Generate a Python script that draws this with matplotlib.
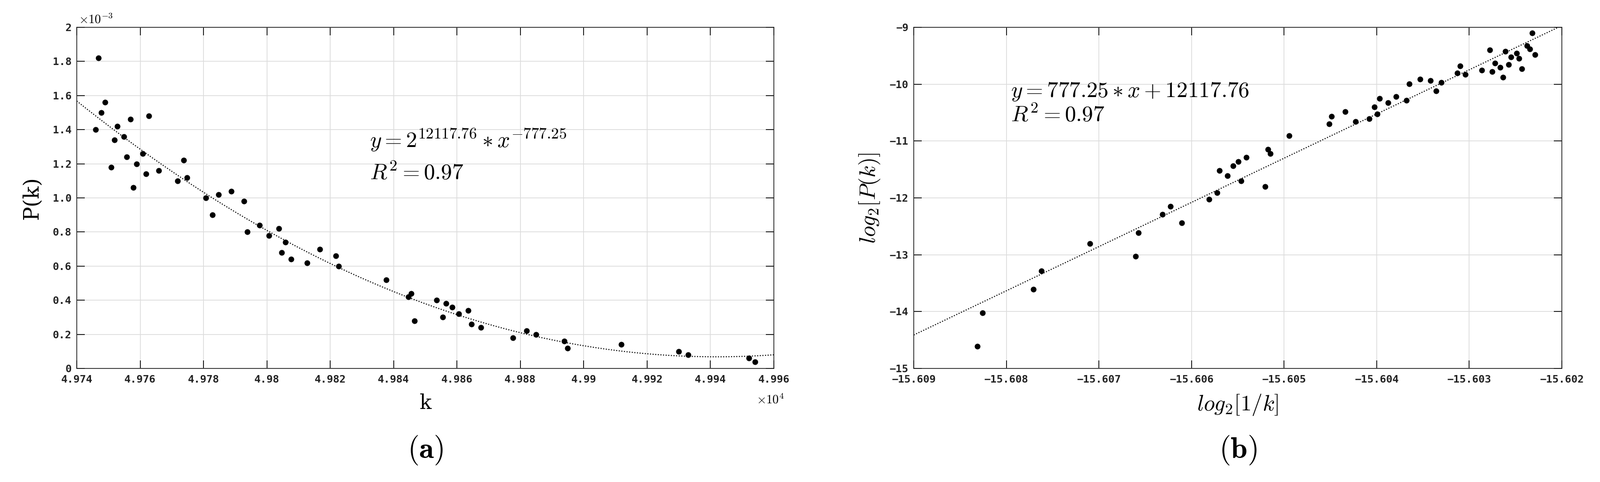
import numpy as np
import matplotlib
matplotlib.use("Agg")
import matplotlib.pyplot as plt

# k in units of 1e4, P in units of 1e-3
k_vals = [4.97459, 4.97469, 4.97478, 4.97489, 4.97508, 4.97519, 4.97528, 4.97548, 4.97558, 4.97569,
          4.97578, 4.97589, 4.97608, 4.97619, 4.97628, 4.97658, 4.97718, 4.97738, 4.97748, 4.97808,
          4.97828, 4.97848, 4.97888, 4.97928, 4.97938, 4.97977, 4.98007, 4.98038, 4.98047, 4.98058,
          4.98077, 4.98127, 4.98167, 4.98217, 4.98226, 4.98376, 4.98446, 4.98455, 4.98466, 4.98535,
          4.98555, 4.98566, 4.98585, 4.98605, 4.98635, 4.98645, 4.98675, 4.98777, 4.98819, 4.98849,
          4.98939, 4.98949, 4.99119, 4.99300, 4.99330, 4.99521, 4.99541]
p_vals = [1.40, 1.82, 1.50, 1.56, 1.18, 1.34, 1.42, 1.36, 1.24, 1.46,
          1.06, 1.20, 1.26, 1.14, 1.48, 1.16, 1.10, 1.22, 1.12, 1.00,
          0.90, 1.02, 1.04, 0.98, 0.80, 0.84, 0.78, 0.82, 0.68, 0.74,
          0.64, 0.62, 0.70, 0.66, 0.60, 0.52, 0.42, 0.44, 0.28, 0.40,
          0.30, 0.38, 0.36, 0.32, 0.34, 0.26, 0.24, 0.18, 0.22, 0.20,
          0.16, 0.12, 0.14, 0.10, 0.08, 0.06, 0.04]

k = np.array(k_vals)
p = np.array(p_vals)
lx = -np.log2(k * 1e4)
ly = np.log2(p * 1e-3)

plt.rcParams['mathtext.fontset'] = 'cm'
tickfont = dict(family='DejaVu Sans Mono', weight='bold', size=16, color='#222222')

fig = plt.figure(figsize=(33.98, 10.23), dpi=100)
ax1 = fig.add_axes([163/3398, 1-782/1023, (1643-163)/3398, (782-58)/1023])
ax2 = fig.add_axes([1940/3398, 1-782/1023, (3316-1940)/3398, (782-58)/1023])

for ax in (ax1, ax2):
    ax.grid(True, color='#dddddd', linewidth=1.2)
    ax.set_axisbelow(True)
    ax.tick_params(direction='in', length=12, top=True, right=True, width=1.2)
    ax.tick_params(axis='x', pad=10)
    ax.tick_params(axis='y', pad=8)
    for s in ax.spines.values():
        s.set_linewidth(1.2)
        s.set_color('#222222')

dot = dict(color='black', linestyle=(0, (1, 1.5)), linewidth=1.6)

# left
ax1.scatter(k, p, s=60, color='black', zorder=3)
c = np.polyfit(k, p, 2)
xx = np.linspace(4.974, 4.996, 300)
ax1.plot(xx, np.polyval(c, xx), **dot)
ax1.set_xlim(4.974, 4.996)
ax1.set_ylim(0, 2)
xt = np.arange(4.974, 4.9961, 0.002)
ax1.set_xticks(xt)
ax1.set_xticklabels([f"{v:.3f}".rstrip('0') for v in xt], **tickfont)
yt = np.arange(0, 2.01, 0.2)
ax1.set_yticks(yt)
ax1.set_yticklabels(['0'] + [f"{v:.1f}" for v in yt[1:-1]] + ['2'], **tickfont)
ax1.text(0.003, 1.004, r'$\times10^{-3}$', transform=ax1.transAxes, fontsize=19, va='bottom')
ax1.text(0.975, -0.075, r'$\times10^{4}$', transform=ax1.transAxes, fontsize=19, va='top')
ax1.set_xlabel('k', family='DejaVu Serif', fontsize=30, labelpad=14)
ax1.set_ylabel('P(k)', family='DejaVu Serif', fontsize=32, labelpad=16)
ax1.text(4.98324, 1.30, r'$y = 2^{12117.76} * x^{-777.25}$', fontsize=34)
ax1.text(4.98324, 1.11, r'$R^2 = 0.97$', fontsize=34)

# right
ax2.scatter(lx, ly, s=60, color='black', zorder=3)
c2 = np.polyfit(lx, ly, 1)
xx2 = np.linspace(-15.609, -15.602, 50)
ax2.plot(xx2, np.polyval(c2, xx2), **dot)
ax2.set_xlim(-15.609, -15.602)
ax2.set_ylim(-15, -9)
xt2 = np.arange(-15.609, -15.6019, 0.001)
ax2.set_xticks(xt2)
ax2.set_xticklabels([f"{v:.3f}".replace('-', '\u2212') for v in xt2], **tickfont)
ax2.set_yticks(range(-15, -8))
ax2.set_yticklabels([f"\u2212{abs(v)}" for v in range(-15, -8)], **tickfont)
ax2.set_xlabel(r'$log_2[1/k]$', fontsize=34, labelpad=12)
ax2.set_ylabel(r'$log_2[P(k)]$', fontsize=34, labelpad=12)
ax2.text(-15.60795, -10.22, r'$y = 777.25 * x + 12117.76$', fontsize=34)
ax2.text(-15.60795, -10.65, r'$R^2 = 0.97$', fontsize=34)

fig.text((163+1643)/2/3398, 1-955/1023, r'$\mathbf{(a)}$', fontsize=46, ha='center', va='center')
fig.text((1940+3316)/2/3398, 1-955/1023, r'$\mathbf{(b)}$', fontsize=46, ha='center', va='center')

fig.savefig('out.png', dpi=100)
